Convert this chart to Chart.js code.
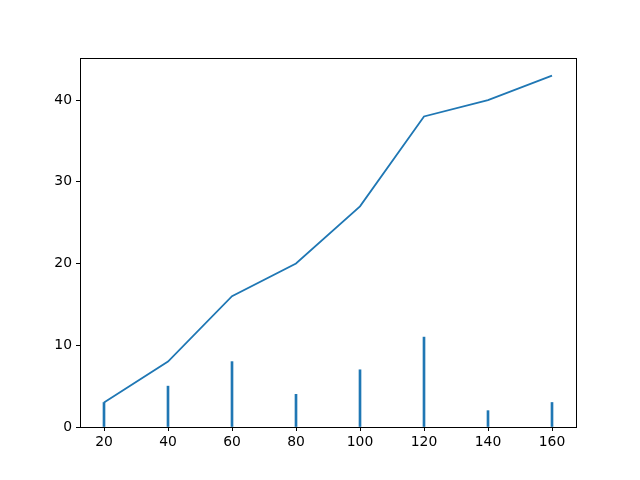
<!DOCTYPE html>
<html><head><meta charset="utf-8">
<script src="https://cdn.jsdelivr.net/npm/chart.js@4/dist/chart.umd.min.js"></script>
<style>html,body{margin:0;padding:0;background:#fff}#wrap{width:640px;height:480px}</style>
</head><body><div id="wrap"><canvas id="c" width="640" height="480"></canvas></div>
<script>
const xValues = [20, 40, 60, 80, 100, 120, 140, 160];
const barValues = [3, 5, 8, 4, 7, 11, 2, 3];
const lineValues = [3, 8, 16, 20, 27, 38, 40, 43];
const xTicks = [20, 40, 60, 80, 100, 120, 140, 160];
const yTicks = [0, 10, 20, 30, 40];

const color = '#1f77b4';
const boxPlugin = {
  id: 'box',
  afterDraw(chart) {
    const a = chart.chartArea, ctx = chart.ctx;
    ctx.save();
    ctx.strokeStyle = '#000';
    ctx.lineWidth = 1;
    ctx.strokeRect(Math.round(a.left) + 0.5, Math.round(a.top) + 0.5, Math.round(a.right - a.left), Math.round(a.bottom - a.top));
    ctx.restore();
  }
};
Chart.defaults.font.family = 'DejaVu Sans';
Chart.defaults.font.size = 13.9;
Chart.defaults.color = '#000';
new Chart(document.getElementById('c'), {
  type: 'bar',
  data: {
    datasets: [
      {
        type: 'line',
        data: xValues.map((x, i) => ({x, y: lineValues[i]})),
        borderColor: color, borderWidth: 1.8, pointRadius: 0, tension: 0, fill: false
      },
      {
        type: 'bar',
        data: xValues.map((x, i) => ({x, y: barValues[i]})),
        backgroundColor: color, borderWidth: 0, barThickness: 2
      }
    ]
  },
  options: {
    responsive: false, animation: false,
    layout: {padding: {left: 0, right: 64, top: 58, bottom: 0}},
    plugins: {legend: {display: false}, tooltip: {enabled: false}},
    scales: {
      x: {
        type: 'linear', min: 12.5, max: 167.5, offset: false,
        afterBuildTicks: s => { s.ticks = xTicks.map(v => ({value: v})); },
        afterFit: s => { s.height = 53; },
        grid: {offset: false, drawOnChartArea: false, drawTicks: true, tickLength: 4, color: '#000'},
        border: {display: true, color: '#000'},
        ticks: {padding: 3, maxRotation: 0, autoSkip: false}
      },
      y: {
        type: 'linear', min: 0, max: 45.15,
        afterBuildTicks: s => { s.ticks = yTicks.map(v => ({value: v})); },
        afterFit: s => { s.width = 80; },
        grid: {offset: false, drawOnChartArea: false, drawTicks: true, tickLength: 4, color: '#000'},
        border: {display: true, color: '#000'},
        ticks: {padding: 4}
      }
    }
  },
  plugins: [boxPlugin]
});
</script></body></html>
